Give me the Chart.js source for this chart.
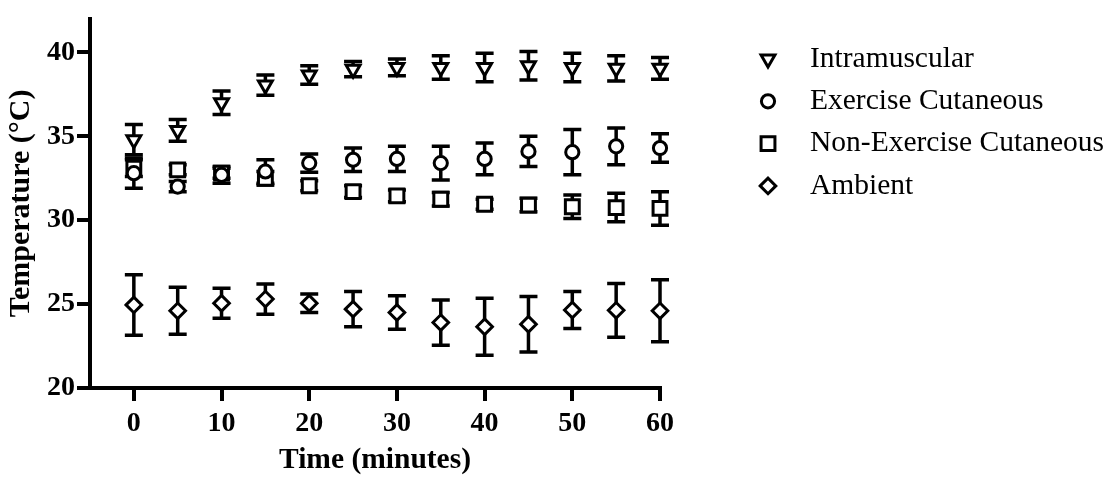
<!DOCTYPE html>
<html>
<head>
<meta charset="utf-8">
<script src="https://cdn.jsdelivr.net/npm/chart.js@4"></script>
<style>
  body { margin: 0; background: #fff; }
</style>
</head>
<body>
<canvas id="tempChart" width="1107" height="483"></canvas>
<script>
// time points (minutes)
const times = [0, 5, 10, 15, 20, 25, 30, 35, 40, 45, 50, 55, 60];

// mean temperatures and error (+/-) per series
const intramuscular = [34.8, 35.35, 37.0, 38.05, 38.65, 39.0, 39.1, 39.1, 39.1, 39.2, 39.1, 39.05, 39.05];
const intramuscularErr = [0.9, 0.65, 0.7, 0.6, 0.55, 0.45, 0.5, 0.7, 0.85, 0.85, 0.85, 0.75, 0.65];

const exerciseCut = [32.8, 32.0, 32.7, 32.9, 33.4, 33.6, 33.65, 33.4, 33.65, 34.1, 34.05, 34.4, 34.3];
const exerciseCutErr = [0.9, 0.3, 0.5, 0.7, 0.55, 0.7, 0.75, 1.0, 0.95, 0.9, 1.35, 1.1, 0.85];

const nonExerciseCut = [33.1, 33.0, 32.8, 32.5, 32.05, 31.7, 31.45, 31.25, 30.95, 30.9, 30.8, 30.75, 30.7];
const nonExerciseCutErr = [0.5, 0.3, 0.3, 0.4, 0.3, 0.35, 0.35, 0.4, 0.3, 0.4, 0.7, 0.85, 1.0];

const ambient = [24.95, 24.6, 25.05, 25.3, 25.05, 24.7, 24.5, 23.9, 23.65, 23.8, 24.65, 24.63, 24.6];
const ambientErr = [1.8, 1.4, 0.9, 0.9, 0.55, 1.05, 1.0, 1.35, 1.7, 1.65, 1.1, 1.6, 1.85];

const xTicks = [0, 10, 20, 30, 40, 50, 60];
const yTicks = [20, 25, 30, 35, 40];

const serif = "'Liberation Serif', 'Times New Roman', serif";
const markerBorder = 3;

function series(label, values, errors, style, radius, rotation) {
    return {
        label: label,
        data: times.map((t, i) => ({ x: t, y: values[i] })),
        errors: errors,
        showLine: false,
        clip: false,
        pointStyle: style,
        pointRadius: radius,
        pointHoverRadius: radius,
        pointRotation: rotation || 0,
        pointBackgroundColor: '#fff',
        pointBorderColor: '#000',
        pointBorderWidth: markerBorder
    };
}

// vertical error bars with caps, drawn under the markers
const errorBars = {
    id: 'errorBars',
    beforeDatasetsDraw(chart) {
        const ctx = chart.ctx;
        const xs = chart.scales.x, ys = chart.scales.y;
        ctx.save();
        ctx.strokeStyle = '#000';
        ctx.lineWidth = 3.5;
        chart.data.datasets.forEach(ds => {
            ds.data.forEach((p, i) => {
                const e = ds.errors[i];
                const x = xs.getPixelForValue(p.x);
                const top = ys.getPixelForValue(p.y + e);
                const bot = ys.getPixelForValue(p.y - e);
                ctx.beginPath();
                ctx.moveTo(x, top); ctx.lineTo(x, bot);
                ctx.moveTo(x - 9, top); ctx.lineTo(x + 9, top);
                ctx.moveTo(x - 9, bot); ctx.lineTo(x + 9, bot);
                ctx.stroke();
            });
        });
        ctx.restore();
    }
};

// legend on the right, markers drawn with Chart.js point helper
const sideLegend = {
    id: 'sideLegend',
    afterDraw(chart) {
        const ctx = chart.ctx;
        ctx.save();
        chart.data.datasets.forEach((ds, i) => {
            const y = 59 + i * 42.3;
            ctx.fillStyle = '#fff';
            ctx.strokeStyle = '#000';
            ctx.lineWidth = markerBorder;
            Chart.helpers.drawPoint(ctx, {
                pointStyle: ds.pointStyle,
                radius: ds.pointRadius,
                rotation: ds.pointRotation,
                borderWidth: markerBorder
            }, 768, y);
            ctx.fillStyle = '#000';
            ctx.font = '29.5px ' + serif;
            ctx.textAlign = 'left';
            ctx.textBaseline = 'middle';
            ctx.fillText(ds.label, 810, y);
        });
        ctx.restore();
    }
};

new Chart(document.getElementById('tempChart'), {
    type: 'scatter',
    data: {
        datasets: [
            series('Intramuscular', intramuscular, intramuscularErr, 'triangle', 8, 180),
            series('Exercise Cutaneous', exerciseCut, exerciseCutErr, 'circle', 6.6),
            series('Non-Exercise Cutaneous', nonExerciseCut, nonExerciseCutErr, 'rect', 9.8),
            series('Ambient', ambient, ambientErr, 'rectRot', 7.8)
        ]
    },
    options: {
        responsive: false,
        animation: false,
        devicePixelRatio: 1,
        layout: { padding: { top: 10, right: 447, left: 0, bottom: 0 } },
        plugins: { legend: { display: false }, tooltip: { enabled: false } },
        scales: {
            x: {
                type: 'linear',
                min: -5,
                max: 60,
                afterFit: s => { s.height = 95; },
                afterBuildTicks: s => { s.ticks = xTicks.map(v => ({ value: v })); },
                border: { color: '#000', width: 4 },
                grid: { drawOnChartArea: false, tickLength: 13, color: '#000', lineWidth: 4 },
                ticks: { color: '#000', padding: 6, font: { family: serif, size: 28, weight: 'bold' } },
                title: {
                    display: true,
                    text: 'Time (minutes)',
                    color: '#000',
                    padding: { top: 0, bottom: 5 },
                    font: { family: serif, size: 29.5, weight: 'bold' }
                }
            },
            y: {
                min: 20,
                max: 42,
                afterFit: s => { s.width = 90; },
                afterBuildTicks: s => { s.ticks = yTicks.map(v => ({ value: v })); },
                border: { color: '#000', width: 4 },
                grid: { drawOnChartArea: false, tickLength: 13, color: '#000', lineWidth: 4 },
                ticks: { color: '#000', padding: 2, font: { family: serif, size: 28, weight: 'bold' } },
                title: {
                    display: true,
                    text: 'Temperature (°C)',
                    color: '#000',
                    padding: { top: 3, bottom: 0 },
                    font: { family: serif, size: 30, weight: 'bold' }
                }
            }
        }
    },
    plugins: [errorBars, sideLegend]
});
</script>
</body>
</html>
